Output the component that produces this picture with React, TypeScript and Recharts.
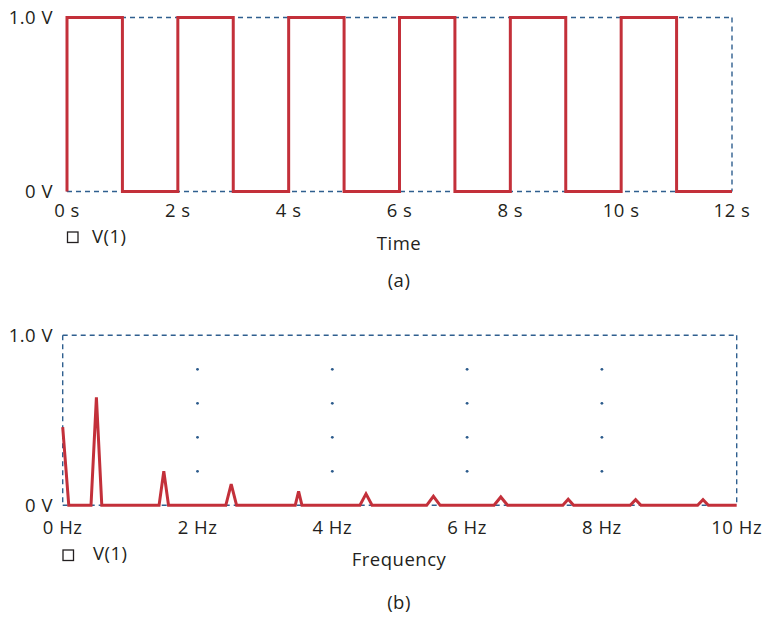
import { CartesianGrid, Line, LineChart, ReferenceDot, XAxis, YAxis } from "recharts"

// (a) square wave, V(1) vs time
const TIME_S = [0, 0, 1, 2, 3, 4, 5, 6, 7, 8, 9, 10, 11, 12]
const WAVE_V = [0, 1, 0, 1, 0, 1, 0, 1, 0, 1, 0, 1, 0, 0]
const TIME_TICKS = [0, 2, 4, 6, 8, 10, 12]

// (b) spectrum, V(1) vs frequency
const FREQ_HZ = [
    0, 0.09, 0.42, 0.5, 0.58, 1.43, 1.5, 1.57, 2.42, 2.5, 2.58, 3.45, 3.5, 3.55, 4.41, 4.5, 4.59,
    5.4, 5.5, 5.6, 6.4, 6.5, 6.6, 7.42, 7.5, 7.58, 8.42, 8.5, 8.58, 9.42, 9.5, 9.58, 10,
]
const SPECTRUM_V = [
    0.46, 0, 0, 0.635, 0, 0, 0.2, 0, 0, 0.125, 0, 0, 0.082, 0, 0, 0.067, 0,
    0, 0.053, 0, 0, 0.049, 0, 0, 0.035, 0, 0, 0.033, 0, 0, 0.033, 0, 0,
]
const FREQ_TICKS = [0, 2, 4, 6, 8, 10]
const DOT_FREQS = [2, 4, 6, 8]
const DOT_VOLTS = [0.2, 0.4, 0.6, 0.8]

const VOLT_TICKS = [0, 1]

const RED = "#c3303a"
const BLUE = "#2f5f8f"
const TEXT = "#231f20"
const FONT = "'Open Sans', sans-serif"

const tickStyle = { fill: TEXT, fontSize: 18.5, fontFamily: FONT, letterSpacing: 0.5 }
const voltLabel = (v: number) => (v === 0 ? "0 V" : `${v.toFixed(1)} V`)

const border = ({ offset }: any) => [offset.left, offset.left + offset.width]

const App = () => {
    const waveData = TIME_S.map((t, i) => ({ t, v: WAVE_V[i] }))
    const specData = FREQ_HZ.map((f, i) => ({ f, v: SPECTRUM_V[i] }))

    return (
        <div style={{ position: "absolute", left: 0, top: 0, width: 764, height: 617, background: "#fff" }}>
            <div style={{ position: "absolute", left: 0, top: 0 }}>
                <LineChart width={764} height={260} data={waveData} margin={{ top: 17.5, right: 32, left: 0, bottom: 38.5 }}>
                    <CartesianGrid
                        stroke={BLUE}
                        strokeDasharray="5 4"
                        strokeWidth={1.4}
                        verticalCoordinatesGenerator={border}
                    />
                    <XAxis
                        dataKey="t"
                        type="number"
                        domain={[0, 12]}
                        ticks={TIME_TICKS}
                        interval={0}
                        tickFormatter={(v) => `${v} s`}
                        axisLine={false}
                        tickLine={false}
                        tickSize={0}
                        tickMargin={12.5}
                        height={30}
                        tick={tickStyle}
                    />
                    <YAxis
                        type="number"
                        domain={[0, 1]}
                        ticks={VOLT_TICKS}
                        interval={0}
                        tickFormatter={voltLabel}
                        axisLine={false}
                        tickLine={false}
                        tickSize={0}
                        tickMargin={14}
                        width={67}
                        tick={tickStyle}
                    />
                    <Line
                        dataKey="v"
                        type="stepAfter"
                        stroke={RED}
                        strokeWidth={3}
                        dot={false}
                        isAnimationActive={false}
                    />
                </LineChart>
            </div>
            <div style={{ position: "absolute", left: 0, top: 300 }}>
                <LineChart width={764} height={260} data={specData} margin={{ top: 35.3, right: 27.3, left: 0, bottom: 24.7 }}>
                    <CartesianGrid
                        stroke={BLUE}
                        strokeDasharray="5 4"
                        strokeWidth={1.4}
                        verticalCoordinatesGenerator={border}
                    />
                    <XAxis
                        dataKey="f"
                        type="number"
                        domain={[0, 10]}
                        ticks={FREQ_TICKS}
                        interval={0}
                        tickFormatter={(v) => `${v} Hz`}
                        axisLine={false}
                        tickLine={false}
                        tickSize={0}
                        tickMargin={16}
                        height={30}
                        tick={tickStyle}
                    />
                    <YAxis
                        type="number"
                        domain={[0, 1]}
                        ticks={VOLT_TICKS}
                        interval={0}
                        tickFormatter={voltLabel}
                        axisLine={false}
                        tickLine={false}
                        tickSize={0}
                        tickMargin={9.7}
                        width={62.7}
                        tick={tickStyle}
                    />
                    {DOT_FREQS.map((f) =>
                        DOT_VOLTS.map((v) => (
                            <ReferenceDot key={`${f}-${v}`} x={f} y={v} r={1.4} fill="#2c5b8c" stroke="none" />
                        ))
                    )}
                    <Line
                        dataKey="v"
                        type="linear"
                        stroke={RED}
                        strokeWidth={3}
                        dot={false}
                        isAnimationActive={false}
                    />
                </LineChart>
            </div>
            <svg
                width={764}
                height={617}
                style={{ position: "absolute", left: 0, top: 0, pointerEvents: "none" }}
                fontFamily={FONT}
                fontSize={18.5}
                letterSpacing={0.5}
                fill={TEXT}
            >
                <rect x={67.5} y={232} width={10.5} height={10.5} fill="none" stroke={TEXT} strokeWidth={1.3} />
                <text x={92} y={243}>V(1)</text>
                <text x={399} y={250} textAnchor="middle">Time</text>
                <text x={399} y={287} textAnchor="middle">(a)</text>

                <rect x={63} y={550} width={10.5} height={10.5} fill="none" stroke={TEXT} strokeWidth={1.3} />
                <text x={93} y={560}>V(1)</text>
                <text x={399} y={566} textAnchor="middle">Frequency</text>
                <text x={399} y={609} textAnchor="middle">(b)</text>
            </svg>
        </div>
    )
}

export default App
